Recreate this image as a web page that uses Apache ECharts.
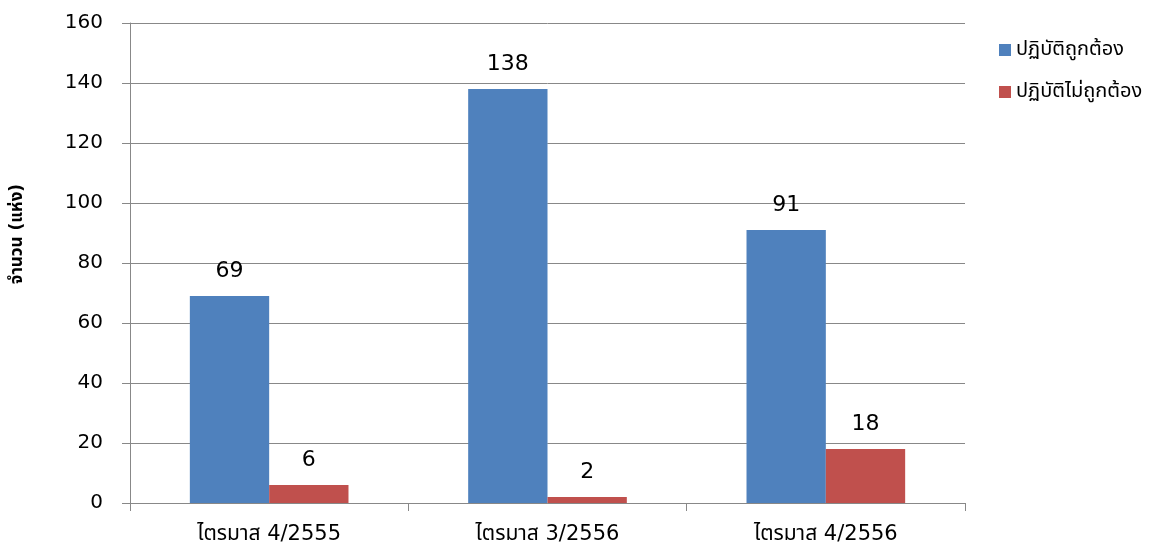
<!DOCTYPE html>
<html><head><meta charset="utf-8">
<script src="https://cdn.jsdelivr.net/npm/echarts@6/dist/echarts.min.js"></script>
<style>html,body{margin:0;padding:0;background:#fff}#c{width:1162px;height:548px}</style>
</head><body><div id="c"></div>
<script>
const categories = ['ไตรมาส 4/2555', 'ไตรมาส 3/2556', 'ไตรมาส 4/2556'];
const seriesNames = ['ปฏิบัติถูกต้อง', 'ปฏิบัติไม่ถูกต้อง'];
const correct = [69, 138, 91];
const incorrect = [6, 2, 18];
const yTitle = 'จำนวน (แห่ง)';
const FONT = 'Tahoma, "DejaVu Sans", "Noto Sans", "Noto Sans Thai", sans-serif';

const chart = echarts.init(document.getElementById('c'));
chart.setOption({
  animation: false,
  textStyle: { fontFamily: FONT },
  grid: { left: 130, right: 197, top: 23, bottom: 45 },
  legend: {
    orient: 'vertical', left: 994, top: 35, itemWidth: 12, itemHeight: 12, itemGap: 22,
    icon: 'rect',
    textStyle: { fontSize: 20, fontWeight: 'normal', color: '#000', fontFamily: FONT },
    data: seriesNames
  },
  graphic: [{
    type: 'text', rotation: Math.PI / 2, x: 18, y: 234,
    style: { text: yTitle, fontSize: 17, fontWeight: 'bold', fill: '#000', fontFamily: FONT,
             align: 'center', verticalAlign: 'middle' }
  }],
  xAxis: {
    type: 'category', data: categories,
    axisLine: { lineStyle: { color: '#888' } },
    axisTick: { show: true, length: 8, lineStyle: { color: '#888' } },
    axisLabel: { fontSize: 21, color: '#000', margin: 21 }
  },
  yAxis: {
    type: 'value', min: 0, max: 160, interval: 20,
    axisLine: { show: true, lineStyle: { color: '#888' } },
    axisTick: { show: true, length: 8, lineStyle: { color: '#888' } },
    axisLabel: { fontSize: 20, color: '#000', margin: 27 },
    splitLine: { lineStyle: { color: '#888' } }
  },
  series: [
    { name: seriesNames[0], type: 'bar', data: correct, barGap: '0%', barCategoryGap: '43%',
      itemStyle: { color: '#4F81BD' },
      label: { show: true, position: 'top', fontSize: 22, color: '#000', distance: 14 } },
    { name: seriesNames[1], type: 'bar', data: incorrect, barGap: '0%', barCategoryGap: '43%',
      itemStyle: { color: '#C0504D' },
      label: { show: true, position: 'top', fontSize: 22, color: '#000', distance: 14 } }
  ]
});
</script></body></html>
